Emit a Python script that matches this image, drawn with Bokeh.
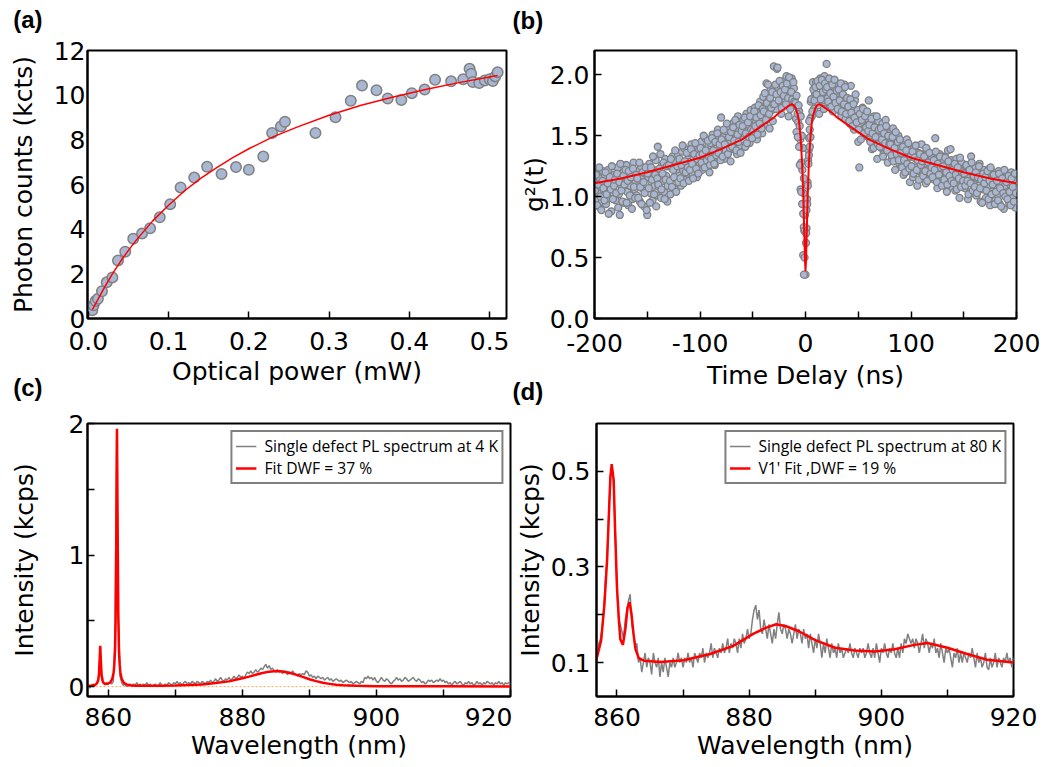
import numpy as np
from bokeh.plotting import figure
from bokeh.layouts import column, row
from bokeh.models import FixedTicker, Range1d, Legend, LegendItem, Span, Title
from bokeh.embed import file_html
from bokeh.resources import INLINE

# ---------------- data: panel (a) saturation ----------------
POWER_MW = [0.005, 0.0066, 0.009, 0.012, 0.017, 0.023, 0.030, 0.037, 0.046, 0.056,
            0.067, 0.077, 0.089, 0.102, 0.115, 0.132, 0.148, 0.166, 0.184, 0.200,
            0.218, 0.229, 0.240, 0.245, 0.283, 0.308, 0.327, 0.341, 0.359, 0.373,
            0.390, 0.403, 0.419, 0.432, 0.452, 0.467, 0.475, 0.477, 0.479, 0.487,
            0.494, 0.500, 0.504, 0.507, 0.510]
COUNTS_KCTS = [0.37, 0.59, 0.78, 0.88, 1.22, 1.62, 1.84, 2.60, 2.99, 3.57,
               3.81, 4.04, 4.53, 5.12, 5.87, 6.31, 6.79, 6.47, 6.78, 6.66,
               7.25, 8.31, 8.60, 8.81, 8.31, 9.01, 9.75, 10.43, 10.22, 9.85,
               9.78, 10.09, 10.25, 10.69, 10.62, 10.71, 11.18, 10.96, 10.59, 10.54,
               10.66, 10.71, 10.63, 10.84, 11.03]
FIT_A_P = [0.005, 0.01, 0.02, 0.03, 0.04, 0.05, 0.06, 0.08, 0.10, 0.12, 0.14, 0.16,
           0.18, 0.20, 0.23, 0.26, 0.30, 0.34, 0.38, 0.42, 0.46, 0.51]
FIT_A_C = [0.40, 0.72, 1.38, 2.00, 2.55, 3.05, 3.52, 4.36, 5.07, 5.72, 6.27, 6.76,
           7.20, 7.60, 8.13, 8.57, 9.10, 9.55, 9.92, 10.25, 10.55, 10.88]
XT_A = [0.0, 0.1, 0.2, 0.3, 0.4, 0.5]
XL_A = ["0.0", "0.1", "0.2", "0.3", "0.4", "0.5"]
YT_A = [0, 2, 4, 6, 8, 10, 12]
YL_A = ["0", "2", "4", "6", "8", "10", "12"]

# ---------------- data: panel (b) g2 ----------------
T_START_NS = -200   # bins every 1 ns, a second set offset by half a bin
G2 = [
    1.12, 0.98, 1.19, 1.03, 0.92, 1.15, 1.08, 0.96, 1.21, 1.01,
    1.17, 0.94, 1.05, 1.22, 0.99, 1.11, 0.88, 1.14, 1.03, 1.18,
    0.97, 1.13, 1.24, 1.02, 0.85, 1.16, 1.07, 1.20, 0.95, 1.10,
    1.26, 1.04, 0.93, 1.15, 1.09, 1.19, 0.98, 1.28, 1.06, 1.12,
    1.01, 1.21, 1.14, 0.96, 1.25, 1.07, 1.17, 0.92, 1.19, 1.05,
    0.85, 1.16, 1.27, 1.03, 1.12, 0.97, 1.22, 1.09, 1.30, 1.01,
    1.41, 1.08, 1.20, 0.99, 1.26, 1.13, 1.04, 1.31, 1.17, 0.96,
    1.11, 1.27, 1.02, 1.24, 1.33, 1.15, 1.06, 1.29, 1.20, 1.35,
    1.17, 1.30, 1.09, 1.37, 1.22, 1.40, 1.14, 1.28, 1.19, 1.34,
    1.36, 1.21, 1.43, 1.18, 1.32, 1.25, 1.41, 1.16, 1.30, 1.38,
    1.27, 1.45, 1.22, 1.39, 1.31, 1.48, 1.25, 1.36, 1.42, 1.20,
    1.44, 1.29, 1.51, 1.35, 1.26, 1.47, 1.40, 1.55, 1.32, 1.42,
    1.65, 1.36, 1.49, 1.31, 1.54, 1.41, 1.58, 1.37, 1.46, 1.29,
    1.52, 1.39, 1.61, 1.44, 1.55, 1.35, 1.66, 1.48, 1.42, 1.58,
    1.46, 1.63, 1.55, 1.41, 1.68, 1.50, 1.59, 1.44, 1.71, 1.53,
    1.66, 1.50, 1.73, 1.61, 1.47, 1.69, 1.55, 1.78, 1.63, 1.52,
    1.82, 1.59, 1.74, 1.93, 1.65, 1.79, 1.56, 1.88, 1.71, 1.62,
    2.07, 1.85, 1.72, 2.05, 1.90, 1.78, 1.94, 1.68, 1.88, 1.81,
    1.95, 1.79, 1.99, 1.87, 1.66, 1.92, 1.83, 1.97, 1.75, 1.89,
    1.81, 1.64, 1.74, 1.61, 1.70, 1.47, 1.28, 1.22, 1.03, 0.72,
    0.36,
    0.74, 1.12, 1.38, 1.55, 1.78, 1.66, 1.94, 1.72, 1.85, 1.94,
    1.78, 1.92, 1.68, 1.97, 1.83, 1.89, 1.74, 1.99, 1.86, 2.09,
    1.81, 1.93, 1.76, 1.88, 1.95, 1.70, 1.90, 1.84, 1.79, 1.93,
    1.85, 1.71, 1.89, 1.66, 1.82, 1.75, 1.92, 1.64, 1.80, 1.73,
    1.76, 1.60, 1.91, 1.66, 1.72, 1.55, 1.79, 1.63, 1.70, 1.45,
    1.24, 1.67, 1.55, 1.73, 1.61, 1.50, 1.69, 1.58, 1.64, 1.79,
    1.47, 1.60, 1.39, 1.56, 1.66, 1.44, 1.58, 1.31, 1.62, 1.51,
    1.54, 1.40, 1.60, 1.35, 1.49, 1.63, 1.42, 1.28, 1.52, 1.45,
    1.46, 1.31, 1.56, 1.36, 1.22, 1.44, 1.33, 1.50, 1.27, 1.41,
    1.25, 1.43, 1.18, 1.37, 1.29, 1.47, 1.21, 1.34, 1.12, 1.39,
    1.33, 1.16, 1.40, 1.24, 1.31, 1.09, 1.36, 1.21, 1.29, 1.43,
    1.18, 1.35, 1.27, 1.11, 1.38, 1.22, 1.30, 1.15, 1.26, 1.32,
    1.27, 1.14, 1.48, 1.31, 1.07, 1.24, 1.35, 1.19, 1.10, 1.29,
    1.12, 1.33, 1.25, 1.04, 1.38, 1.21, 1.16, 1.30, 1.08, 1.27,
    1.22, 1.05, 1.31, 1.14, 1.26, 0.99, 1.19, 1.28, 1.09, 1.23,
    1.07, 1.25, 1.17, 0.98, 1.21, 1.12, 1.33, 1.03, 1.19, 1.10,
    1.24, 1.01, 1.15, 1.09, 1.27, 0.96, 1.18, 1.06, 1.22, 1.13,
    0.99, 1.17, 1.08, 1.23, 0.93, 1.14, 1.04, 1.20, 1.11, 0.97,
    1.15, 1.02, 1.21, 0.94, 1.12, 1.06, 1.18, 0.90, 1.09, 1.16,
    1.01, 1.14, 0.95, 1.10, 1.20, 0.99, 1.06, 1.13, 0.91, 1.09,
]
G2_HALF = [
    1.05, 1.18, 0.93, 1.10, 1.24, 1.00, 0.89, 1.13, 1.07, 0.97,
    1.20, 1.02, 1.11, 0.86, 1.16, 1.06, 1.25, 0.98, 1.09, 1.14,
    1.03, 1.19, 0.91, 1.12, 1.27, 1.05, 0.96, 1.17, 1.10, 1.22,
    0.95, 1.13, 1.21, 1.01, 1.16, 0.90, 1.23, 1.08, 0.99, 1.18,
    1.15, 0.99, 1.28, 1.08, 0.94, 1.20, 1.12, 1.03, 1.24, 0.89,
    1.19, 1.07, 0.95, 1.24, 1.14, 1.33, 1.02, 1.18, 0.92, 1.15,
    1.10, 1.23, 1.35, 1.06, 1.19, 1.28, 0.98, 1.14, 1.25, 1.09,
    1.26, 1.13, 1.31, 1.08, 1.22, 1.16, 1.38, 1.04, 1.25, 1.12,
    1.31, 1.15, 1.26, 1.42, 1.11, 1.29, 1.20, 1.36, 1.24, 1.13,
    1.22, 1.39, 1.27, 1.15, 1.35, 1.44, 1.23, 1.31, 1.19, 1.34,
    1.40, 1.28, 1.35, 1.50, 1.24, 1.38, 1.30, 1.46, 1.33, 1.26,
    1.31, 1.48, 1.38, 1.27, 1.45, 1.34, 1.52, 1.36, 1.43, 1.30,
    1.47, 1.33, 1.55, 1.43, 1.38, 1.60, 1.35, 1.49, 1.40, 1.53,
    1.41, 1.57, 1.46, 1.63, 1.38, 1.51, 1.45, 1.59, 1.36, 1.54,
    1.58, 1.47, 1.65, 1.52, 1.44, 1.61, 1.49, 1.66, 1.55, 1.48,
    1.54, 1.70, 1.58, 1.65, 1.51, 1.75, 1.60, 1.67, 1.56, 1.72,
    1.70, 1.85, 1.63, 1.77, 1.92, 1.68, 1.81, 1.73, 1.86, 1.76,
    1.76, 1.92, 1.84, 2.06, 1.79, 1.95, 1.86, 1.73, 1.91, 1.83,
    1.88, 1.76, 1.93, 1.81, 1.98, 1.72, 1.86, 1.80, 1.94, 1.78,
    1.77, 1.83, 1.68, 1.75, 1.58, 1.66, 1.50, 1.40, 1.15, 0.85,
    0.62, 0.98, 1.30, 1.48, 1.64, 1.80, 1.70, 1.88, 1.79, 1.90,
    1.84, 1.95, 1.75, 1.91, 1.80, 1.96, 1.86, 1.72, 1.93, 1.88,
    1.90, 1.78, 1.97, 1.85, 1.74, 1.92, 1.82, 1.96, 1.77, 1.87,
    1.72, 1.88, 1.79, 1.93, 1.70, 1.84, 1.76, 1.90, 1.68, 1.81,
    1.74, 1.62, 1.80, 1.69, 1.58, 1.76, 1.65, 1.84, 1.61, 1.71,
    1.55, 1.68, 1.47, 1.63, 1.72, 1.52, 1.66, 1.57, 1.70, 1.54,
    1.59, 1.45, 1.64, 1.52, 1.40, 1.57, 1.49, 1.66, 1.43, 1.55,
    1.41, 1.56, 1.47, 1.33, 1.52, 1.44, 1.58, 1.38, 1.50, 1.43,
    1.43, 1.34, 1.49, 1.29, 1.40, 1.53, 1.35, 1.45, 1.30, 1.47,
    1.36, 1.24, 1.41, 1.30, 1.20, 1.38, 1.27, 1.44, 1.23, 1.33,
    1.25, 1.37, 1.19, 1.32, 1.42, 1.22, 1.30, 1.14, 1.35, 1.26,
    1.29, 1.17, 1.33, 1.21, 1.40, 1.13, 1.28, 1.36, 1.19, 1.24,
    1.16, 1.30, 1.22, 1.37, 1.12, 1.27, 1.18, 1.33, 1.24, 1.09,
    1.25, 1.14, 1.32, 1.20, 1.10, 1.29, 1.17, 1.39, 1.13, 1.22,
    1.11, 1.27, 1.18, 1.06, 1.24, 1.15, 1.32, 1.08, 1.20, 1.13,
    1.19, 1.09, 1.26, 1.13, 1.02, 1.22, 1.11, 1.28, 1.05, 1.17,
    1.08, 1.20, 1.03, 1.16, 1.25, 1.07, 1.14, 0.95, 1.19, 1.11,
    1.16, 1.05, 1.21, 0.98, 1.13, 1.24, 1.02, 1.10, 1.18, 0.94,
    1.04, 1.13, 0.97, 1.19, 1.07, 0.92, 1.15, 1.03, 1.22, 1.00,
    1.12, 0.98, 1.17, 1.04, 0.93, 1.15, 1.08, 0.96, 1.19, 1.03,
]
DIP_T = [-8.5, -7.3, -6.0, -5.4, -4.7, -4.1, -3.2, -2.2, -1.6, -0.9, -2.2, -0.9, -1.5,
         0.6, 0.95, 1.6, 2.2, 2.8, 3.2, 4.1, 4.7, 3.5]
DIP_G2 = [1.53, 1.49, 1.41, 1.26, 1.06, 1.04, 0.94, 0.86, 0.75, 0.72, 0.52, 0.50, 0.36,
          0.70, 0.89, 0.94, 1.09, 1.27, 1.34, 1.41, 1.49, 1.62]
FIT_B_T = [-200, -175, -150, -125, -100, -80, -60, -50, -40, -30, -25, -20, -16, -13,
           -11, -9, -7, -6, -5, -4, -3, -2, -1.5, -1, -0.5, 0, 0.5, 1, 1.5, 2, 3, 4,
           5, 6, 7, 9, 11, 13, 16, 20, 25, 30, 40, 50, 60, 80, 100, 125, 150, 175, 200]
FIT_B_G = [1.11, 1.15, 1.20, 1.26, 1.32, 1.39, 1.47, 1.53, 1.59, 1.65, 1.69, 1.72,
           1.745, 1.76, 1.75, 1.72, 1.66, 1.61, 1.52, 1.40, 1.23, 0.98, 0.82, 0.65,
           0.48, 0.39, 0.48, 0.65, 0.82, 0.98, 1.23, 1.40, 1.52, 1.61, 1.66, 1.72,
           1.75, 1.76, 1.745, 1.72, 1.69, 1.65, 1.59, 1.53, 1.47, 1.39, 1.32, 1.26,
           1.20, 1.15, 1.11]
XT_B = [-200, -100, 0, 100, 200]
XL_B = ["-200", "-100", "0", "100", "200"]
XM_B = [-150, -50, 50, 150]
YT_B = [0.0, 0.5, 1.0, 1.5, 2.0]
YL_B = ["0.0", "0.5", "1.0", "1.5", "2.0"]

# ---------------- data: panel (c) 4 K spectrum ----------------
WL_START = 857.0   # 0.25 nm steps
WL_STEP = 0.25
PL_4K = [
    0.00, -0.01, 0.01, 0.02,  0.01, 0.03, 0.04, 0.22,  0.06, 0.03, 0.02, 0.03,
    0.02, 0.03, 0.02, 0.04,  0.35, 1.95, 0.55, 0.08,  0.03, 0.01, 0.02, 0.00,
    0.01, 0.02, 0.00, 0.02,  0.01, 0.03, 0.01, 0.02,  0.00, 0.02, 0.01, 0.03,
    0.01, 0.02, 0.00, 0.01,  0.02, 0.00, 0.01, 0.03,  0.01, 0.00, 0.02, 0.01,
    0.03, 0.02, 0.01, 0.03,  0.02, 0.04, 0.02, 0.03,  0.01, 0.03, 0.04, 0.02,
    0.03, 0.02, 0.04, 0.03,  0.02, 0.04, 0.03, 0.02,  0.04, 0.03, 0.02, 0.04,
    0.03, 0.05, 0.03, 0.04,  0.06, 0.04, 0.05, 0.07,  0.05, 0.04, 0.06, 0.05,
    0.07, 0.05, 0.06, 0.08,  0.06, 0.07, 0.09, 0.07,  0.08, 0.06, 0.09, 0.11,
    0.10, 0.12, 0.10, 0.11,  0.13, 0.11, 0.12, 0.14,  0.13, 0.15, 0.17, 0.14,
    0.16, 0.13, 0.14, 0.12,  0.11, 0.13, 0.11, 0.12,  0.10, 0.12, 0.11, 0.09,
    0.11, 0.10, 0.12, 0.10,  0.09, 0.08, 0.10, 0.09,  0.10, 0.09, 0.12, 0.11,
    0.08, 0.09, 0.07, 0.08,  0.06, 0.08, 0.07, 0.06,  0.07, 0.05, 0.06, 0.07,
    0.05, 0.06, 0.04, 0.05,  0.06, 0.05, 0.04, 0.05,  0.03, 0.04, 0.05, 0.04,
    0.03, 0.04, 0.02, 0.03,  0.04, 0.03, 0.02, 0.04,  0.03, 0.07, 0.06, 0.08,
    0.06, 0.07, 0.05, 0.07,  0.04, 0.03, 0.05, 0.07,  0.05, 0.04, 0.06, 0.05,
    0.03, 0.02, 0.04, 0.05,  0.07, 0.05, 0.06, 0.04,  0.05, 0.07, 0.06, 0.04,
    0.05, 0.06, 0.07, 0.05,  0.04, 0.06, 0.05, 0.03,  0.04, 0.02, 0.03, 0.05,
    0.04, 0.05, 0.03, 0.04,  0.05, 0.04, 0.06, 0.04,  0.05, 0.03, 0.04, 0.02,
    0.03, 0.01, 0.03, 0.04,  0.02, 0.03, 0.04, 0.02,  0.01, 0.03, 0.02, 0.04,
    0.02, 0.03, 0.01, 0.02,  0.04, 0.02, 0.03, 0.01,  0.03, 0.02, 0.04, 0.03,
    0.02, 0.03, 0.01, 0.03,  0.02, 0.04, 0.02, 0.03,  0.01, 0.03, 0.02, 0.03,
    0.02,
]
FIT_C_WL = [856.9, 857.5, 858.0, 858.3, 858.5, 858.6, 858.7, 858.8, 858.9, 859.0,
            859.2, 859.5, 859.9, 860.3, 860.6, 860.8, 860.9, 861.0, 861.1, 861.2,
            861.3, 861.4, 861.5, 861.6, 861.7, 861.8, 862.0, 862.3, 862.7, 863.2,
            864.0, 866.0, 868.0, 870.0, 872.0, 874.0, 876.0, 878.0, 880.0, 881.0,
            882.0, 883.0, 884.0, 885.0, 886.0, 887.0, 888.0, 889.0, 890.0, 891.0,
            892.0, 893.0, 894.0, 895.0, 897.0, 900.0, 905.0, 910.0, 920.0]
FIT_C_I = [0.006, 0.008, 0.012, 0.023, 0.05, 0.089, 0.19, 0.31, 0.19, 0.09,
           0.035, 0.02, 0.021, 0.033, 0.06, 0.11, 0.165, 0.273, 0.52, 1.16,
           1.96, 1.16, 0.52, 0.273, 0.165, 0.11, 0.06, 0.03, 0.017, 0.011,
           0.007, 0.006, 0.007, 0.009, 0.012, 0.017, 0.027, 0.040, 0.063, 0.076,
           0.090, 0.104, 0.114, 0.119, 0.115, 0.105, 0.091, 0.074, 0.056, 0.042,
           0.030, 0.021, 0.015, 0.011, 0.006, 0.003, 0.002, 0.002, 0.001]
BASELINE_C = 0.0
XT_S = [860, 880, 900, 920]
XL_S = ["860", "880", "900", "920"]
XM_S = [870, 890, 910]
YT_C = [0, 1, 2]
YL_C = ["0", "1", "2"]
YM_C = [0.5, 1.5]
LEG_C = ["Single defect PL spectrum at 4 K", "Fit DWF = 37 %"]

# ---------------- data: panel (d) 80 K spectrum ----------------
PL_80K = [
    0.12, 0.14, 0.15, 0.17,  0.21, 0.27, 0.32, 0.41,  0.49, 0.51, 0.47, 0.37,
    0.25, 0.19, 0.18, 0.165, 0.15, 0.19, 0.21, 0.23,  0.243, 0.18, 0.16, 0.13,
    0.14, 0.10, 0.11, 0.08,  0.10, 0.12, 0.09, 0.11,  0.10, 0.075, 0.12, 0.10,
    0.09, 0.11, 0.07, 0.10,  0.08, 0.11, 0.09, 0.07,  0.10, 0.09, 0.11, 0.09,
    0.10, 0.12, 0.10, 0.11,  0.09, 0.11, 0.10, 0.12,  0.10, 0.11, 0.09, 0.12,
    0.11, 0.10, 0.12, 0.11,  0.13, 0.10, 0.12, 0.11,  0.12, 0.14, 0.11, 0.13,
    0.12, 0.11, 0.13, 0.12,  0.14, 0.12, 0.13, 0.15,  0.12, 0.14, 0.13, 0.15,
    0.14, 0.12, 0.15, 0.13,  0.16, 0.14, 0.15, 0.17,  0.15, 0.16, 0.19, 0.21,
    0.22, 0.19, 0.21, 0.17,  0.16, 0.19, 0.17, 0.15,  0.18, 0.16, 0.14, 0.17,
    0.15, 0.18, 0.205, 0.17, 0.16, 0.18, 0.17, 0.15,  0.17, 0.16, 0.14, 0.16,
    0.18, 0.15, 0.17, 0.16,  0.14, 0.17, 0.15, 0.16,  0.13, 0.16, 0.14, 0.12,
    0.15, 0.13, 0.16, 0.14,  0.11, 0.14, 0.12, 0.15,  0.13, 0.11, 0.14, 0.12,
    0.13, 0.11, 0.14, 0.12,  0.13, 0.11, 0.12, 0.13,  0.12, 0.14, 0.12, 0.11,
    0.13, 0.12, 0.11, 0.13,  0.12, 0.13, 0.11, 0.12,  0.14, 0.12, 0.11, 0.13,
    0.11, 0.14, 0.12, 0.10,  0.13, 0.12, 0.14, 0.12,  0.11, 0.13, 0.12, 0.14,
    0.12, 0.11, 0.13, 0.11,  0.14, 0.12, 0.15, 0.14,  0.16, 0.15, 0.14, 0.15,
    0.13, 0.15, 0.14, 0.12,  0.14, 0.16, 0.13, 0.15,  0.14, 0.12, 0.14, 0.13,
    0.15, 0.12, 0.13, 0.11,  0.14, 0.12, 0.10, 0.13,  0.12, 0.13, 0.11, 0.09,
    0.12, 0.11, 0.13, 0.10,  0.12, 0.10, 0.12, 0.11,  0.10, 0.12, 0.11, 0.13,
    0.11, 0.09, 0.12, 0.10,  0.11, 0.09, 0.10, 0.12,  0.09, 0.085, 0.11, 0.09,
    0.10, 0.12, 0.09, 0.11,  0.10, 0.09, 0.11, 0.10,  0.12, 0.10, 0.11, 0.09,
    0.11,
]
FIT_D_WL = [856.9, 857.1, 857.6, 858.1, 858.5, 858.8, 859.0, 859.2, 859.5, 859.7,
            860.0, 860.3, 860.5, 860.9, 861.3, 861.6, 861.9, 862.2, 862.5, 862.8,
            863.3, 864.1, 866.6, 870.1, 874.1, 877.6, 880.6, 882.6, 884.1, 885.6,
            887.6, 890.0, 893.0, 896.0, 899.0, 902.0, 905.0, 907.0, 910.0, 913.0,
            916.0, 920.0]
FIT_D_I = [0.107, 0.118, 0.146, 0.222, 0.313, 0.418, 0.488, 0.515, 0.481, 0.383,
           0.257, 0.187, 0.149, 0.137, 0.173, 0.215, 0.226, 0.201, 0.160, 0.128,
           0.109, 0.104, 0.101, 0.105, 0.118, 0.135, 0.160, 0.173, 0.180, 0.176,
           0.165, 0.147, 0.131, 0.125, 0.123, 0.128, 0.137, 0.141, 0.131, 0.118,
           0.106, 0.100]
YT_D = [0.1, 0.3, 0.5]
YL_D = ["0.1", "0.3", "0.5"]
YM_D = [0.2, 0.4]
LEG_D = ["Single defect PL spectrum at 80 K", "V1' Fit ,DWF = 19 %"]

# ---------------- styling ----------------
AX_FONT = "DejaVu Sans"
TICK_PX = "25px"
LAB_PX = "25px"
RED = "#ff0000"
GRAY = "#808080"
DOT_FILL = "#a8b7d3"
NBSP = "\u00a0"


def base_fig(width, height, bl, br, bt, bb, xr, yr):
    p = figure(width=width, height=height, min_border_left=bl, min_border_right=br,
               min_border_top=bt, min_border_bottom=bb,
               x_range=Range1d(*xr), y_range=Range1d(*yr),
               output_backend="svg", toolbar_location=None, tools="")
    p.grid.visible = False
    p.outline_line_color = "black"
    p.outline_line_width = 2
    p.background_fill_color = "white"
    p.border_fill_color = "white"
    p.title.visible = False
    for ax in (p.xaxis[0], p.yaxis[0]):
        ax.axis_line_width = 2
        ax.axis_line_color = "black"
        ax.major_tick_line_width = 1.5
        ax.minor_tick_line_width = 1.5
        ax.major_tick_line_color = "black"
        ax.minor_tick_line_color = "black"
        ax.major_tick_in = 7
        ax.major_tick_out = 0
        ax.minor_tick_in = 7
        ax.minor_tick_out = 0
        ax.major_label_text_font = AX_FONT
        ax.major_label_text_font_size = TICK_PX
        ax.major_label_text_color = "black"
        ax.axis_label_text_font = AX_FONT
        ax.axis_label_text_font_size = LAB_PX
        ax.axis_label_text_font_style = "normal"
        ax.axis_label_text_color = "black"
    return p


def set_ticks(ax, major, labels, minor=()):
    ax.ticker = FixedTicker(ticks=list(major), minor_ticks=list(minor))
    ax.major_label_overrides = {m: l for m, l in zip(major, labels)}


def panel_title(p, text, side, offset, standoff, valign):
    """Panel letter drawn as a side-panel title."""
    p.add_layout(Title(text=text, align="left", offset=offset,
                       standoff=standoff, vertical_align=valign,
                       text_font="Liberation Sans", text_font_size="24px",
                       text_font_style="bold", text_color="black",
                       text_line_height=1.0), side)


def add_legend(p, renderers, labels):
    leg = Legend(items=[LegendItem(label=l, renderers=[r]) for l, r in zip(labels, renderers)],
                 location="top_right", margin=7, padding=3, spacing=-2,
                 glyph_width=21, glyph_height=14, label_standoff=8, label_height=16,
                 label_text_font="Open Sans", label_text_font_size="15.7px",
                 label_text_color="black",
                 border_line_color="black", border_line_width=2,
                 background_fill_color="white", background_fill_alpha=1.0)
    p.add_layout(leg)


# ---------------- panel (a) ----------------
pa = base_fig(510, 406, 87, 4, 50, 84, (-0.001, 0.521), (0, 12))
pa.scatter(POWER_MW, COUNTS_KCTS, marker="circle", size=10.5, fill_color=DOT_FILL,
           line_color=GRAY, line_width=1.5)
pa.line(FIT_A_P, FIT_A_C, line_color=RED, line_width=1.5)
set_ticks(pa.xaxis[0], XT_A, XL_A)
set_ticks(pa.yaxis[0], YT_A, YL_A)
pa.yaxis[0].major_tick_in = 0
pa.xaxis[0].axis_label = "Optical power (mW)"
pa.yaxis[0].axis_label = "Photon counts (kcts)"
pa.xaxis[0].major_label_standoff = 13
pa.xaxis[0].axis_label_standoff = 4
pa.yaxis[0].major_label_standoff = 2
pa.yaxis[0].axis_label_standoff = 13
panel_title(pa, "(a)\n" + NBSP, "above", -74.3, -18.4, "bottom")
panel_title(pa, "(c)", "below", -74.3, -28.8, "top")

# ---------------- panel (b) ----------------
pb = base_fig(538, 406, 84, 32, 49, 88, (-200, 200), (0, 2.2))
pb.scatter(T_START_NS + np.arange(len(G2)), G2, marker="circle", size=7,
           fill_color=DOT_FILL, line_color=GRAY, line_width=1.3)
pb.scatter(T_START_NS + 0.5 + np.arange(len(G2_HALF)), G2_HALF, marker="circle", size=7,
           fill_color=DOT_FILL, line_color=GRAY, line_width=1.3)
pb.scatter(DIP_T, DIP_G2, marker="circle", size=7, fill_color=DOT_FILL,
           line_color=GRAY, line_width=1.3)
pb.line(FIT_B_T, FIT_B_G, line_color=RED, line_width=2)
set_ticks(pb.xaxis[0], XT_B, XL_B, XM_B)
set_ticks(pb.yaxis[0], YT_B, YL_B)
pb.xaxis[0].axis_label = "Time Delay (ns)"
pb.yaxis[0].axis_label = "g\u00b2(t)"
pb.xaxis[0].major_label_standoff = 15
pb.xaxis[0].axis_label_standoff = 6
pb.yaxis[0].major_label_standoff = 5
pb.yaxis[0].axis_label_standoff = -2
panel_title(pb, "(b)\n" + NBSP, "above", -82, -20.4, "bottom")
panel_title(pb, "(d)", "below", -82, -28.8, "top")

# ---------------- panel (c) ----------------
pc = base_fig(512, 360, 87, 2, 17, 70, (856.9, 920.0), (-0.075, 2.0))
pc.add_layout(Span(location=BASELINE_C, dimension="width", line_color="#f7a55a",
                   line_dash="2 2", line_width=1, level="underlay"))
gc = pc.line(WL_START + WL_STEP * np.arange(len(PL_4K)), PL_4K, line_color=GRAY, line_width=1.5)
rc = pc.line(FIT_C_WL, FIT_C_I, line_color=RED, line_width=2.5)
set_ticks(pc.xaxis[0], XT_S, XL_S, XM_S)
set_ticks(pc.yaxis[0], YT_C, YL_C, YM_C)
pc.xaxis[0].axis_label = "Wavelength (nm)"
pc.yaxis[0].axis_label = "Intensity (kcps)"
pc.xaxis[0].major_label_standoff = 11
pc.xaxis[0].axis_label_standoff = 2
pc.yaxis[0].major_label_standoff = 3
pc.yaxis[0].axis_label_standoff = 27
add_legend(pc, [gc, rc], LEG_C)

# ---------------- panel (d) ----------------
pd_ = base_fig(536, 360, 83, 35, 17, 70, (856.9, 920.0), (0.029, 0.6))
gd = pd_.line(WL_START + WL_STEP * np.arange(len(PL_80K)), PL_80K, line_color=GRAY, line_width=1.5)
rd = pd_.line(FIT_D_WL, FIT_D_I, line_color=RED, line_width=2.5)
set_ticks(pd_.xaxis[0], XT_S, XL_S, XM_S)
set_ticks(pd_.yaxis[0], YT_D, YL_D, YM_D)
pd_.xaxis[0].axis_label = "Wavelength (nm)"
pd_.yaxis[0].axis_label = "Intensity (kcps)"
pd_.xaxis[0].major_label_standoff = 11
pd_.xaxis[0].axis_label_standoff = 2
pd_.yaxis[0].major_label_standoff = 6
pd_.yaxis[0].axis_label_standoff = 3
add_legend(pd_, [gd, rd], LEG_D)

layout = column(row(pa, pb), row(pc, pd_))
open("out.html", "w").write(file_html(layout, INLINE))
